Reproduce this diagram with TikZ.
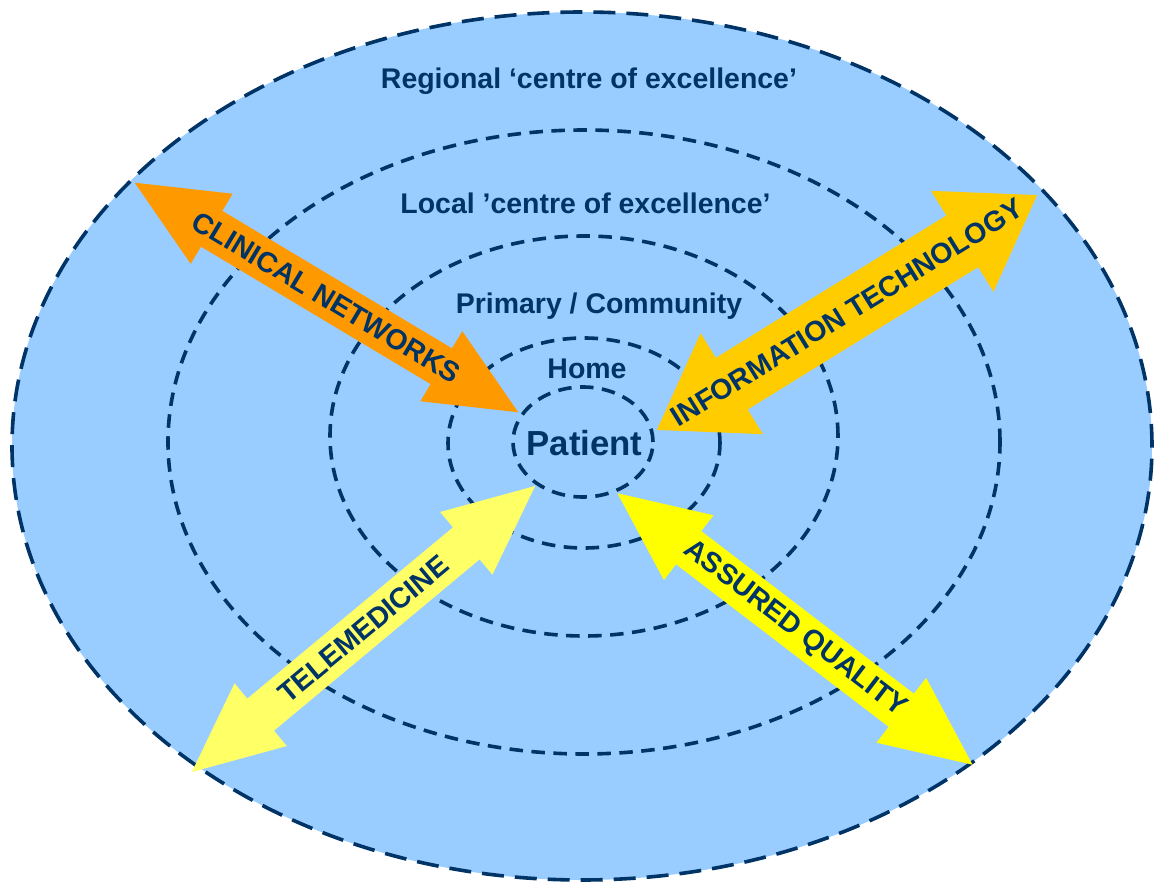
\documentclass[tikz,border=0pt]{standalone}
\usepackage{fontspec}
\setmainfont{Liberation Sans}
\usepackage{tikz}
\usetikzlibrary{shapes.arrows}
\definecolor{navy}{RGB}{0,51,102}
\definecolor{skyFill}{RGB}{153,204,255}
\definecolor{clinOrange}{RGB}{255,153,0}
\definecolor{infoGold}{RGB}{255,204,0}
\definecolor{teleYellow}{RGB}{255,255,102}
\definecolor{qualYellow}{RGB}{255,255,0}
\tikzset{
  ring/.style={draw=navy, line width=0.072cm, dash pattern=on 0.27cm off 0.17cm},
  ringtext/.style={text=navy, font=\fontsize{16.2}{18}\selectfont\bfseries, anchor=base, inner sep=0pt},
  fatarrow/.style={double arrow, draw=none, inner sep=0pt, text width=0pt, text height=0.82cm, text depth=0pt,
    minimum height=8.94cm, double arrow head extend=0.4cm, double arrow tip angle=49},
  arrowtext/.style={text=navy, font=\fontsize{16.2}{18}\selectfont\bfseries, inner sep=0pt}
}

\begin{document}
\begin{tikzpicture}[x=0.02cm, y=0.02cm]
  \useasboundingbox (-583,-440) rectangle (571,443);
  % rings round the patient
  \fill[skyFill] (-1,-3) ellipse [x radius=570, y radius=434];
  \draw[ring, dash pattern=on 0.44cm off 0.22cm] (-1,-3) ellipse [x radius=570, y radius=434];
  \draw[ring] (1,1) ellipse [x radius=416, y radius=312];
  \draw[ring] (1,7) ellipse [x radius=254, y radius=200];
  \draw[ring] (1,0) ellipse [x radius=136, y radius=105];
  \draw[ring] (0,1) ellipse [x radius=70, y radius=55];

  \node[ringtext] (regional) at (6,354) {Regional ‘centre of excellence’};
  \node[ringtext] (local) at (2.5,229) {Local ’centre of excellence’};
  \node[ringtext] (primary) at (16,129) {Primary / Community};
  \node[ringtext] (home) at (4,64) {Home};
  \node[ringtext, font=\fontsize{19.8}{22}\selectfont\bfseries] (patient) at (1.5,-12) {Patient};

  % the four links
  \node[fatarrow, fill=clinOrange, rotate=-30.9] (clinical) at (-256.5,145.5) {};
  \node[fatarrow, fill=infoGold, rotate=31.7, text height=1.2cm,
        double arrow head extend=0.58cm, double arrow tip angle=68] (infotech) at (264,130.5) {};
  \node[fatarrow, fill=teleYellow, rotate=39.8] (tele) at (-219.5,-186) {};
  \node[fatarrow, fill=qualYellow, rotate=-37.4] (quality) at (212,-186) {};

  \node[arrowtext, rotate=-30.9] (clinicaltxt) at (clinical.center) {CLINICAL NETWORKS};
  \node[arrowtext, rotate=31.7] (infotechtxt) at (infotech.center) {INFORMATION TECHNOLOGY};
  \node[arrowtext, rotate=39.8] (teletxt) at (tele.center) {TELEMEDICINE};
  \node[arrowtext, rotate=-37.4] (qualitytxt) at (quality.center) {ASSURED QUALITY};
\end{tikzpicture}
\end{document}
